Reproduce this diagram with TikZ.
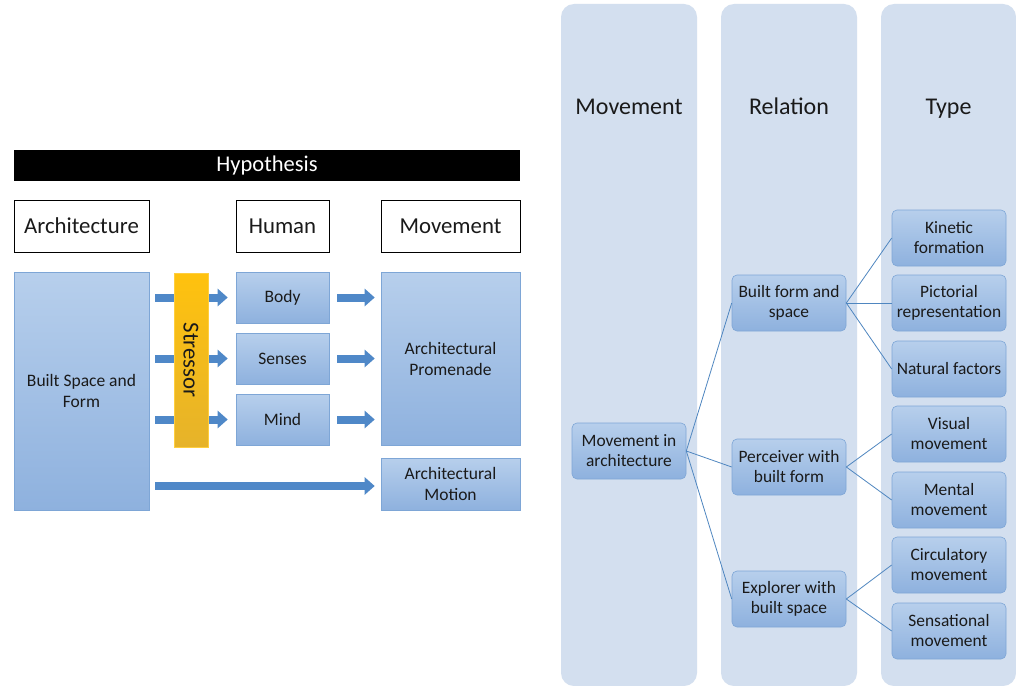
\documentclass[tikz,border=0pt]{standalone}
\usepackage{fontspec}
\setmainfont{Carlito}
\usetikzlibrary{arrows.meta}
\definecolor{nodeTop}{HTML}{B7CFEC}
\definecolor{nodeBot}{HTML}{8EB1DE}
\definecolor{nodeLine}{HTML}{7EA6D6}
\definecolor{colFill}{HTML}{D3DFEF}
\definecolor{arrowFill}{HTML}{4F88C8}
\definecolor{arrowLine}{HTML}{3F73B0}
\definecolor{connLine}{HTML}{4F86C0}
\definecolor{stressTop}{HTML}{FFC20E}
\definecolor{stressBot}{HTML}{E6B32A}
\definecolor{txt}{HTML}{1A1A1A}
\tikzset{
 hdr/.style={draw=black, line width=0.8pt, fill=white, minimum width=135pt, minimum height=52pt, inner sep=0pt, text=txt, font=\fontsize{22.8}{27}\selectfont},
 bluebox/.style={draw=nodeLine, line width=0.6pt, top color=nodeTop, bottom color=nodeBot, inner sep=0pt, align=center, text=txt, font=\fontsize{17.5}{21}\selectfont},
 roundbox/.style={bluebox, rounded corners=5pt, minimum width=114pt, minimum height=56pt, font=\fontsize{17.4}{20}\selectfont},
 column/.style={fill=colFill, rounded corners=13pt, draw=none},
 colhead/.style={text=txt, anchor=base, font=\fontsize{24}{28}\selectfont},
 barrow/.style={arrowFill, line width=8pt, -{Triangle[length=10pt,width=17pt]}},
 conn/.style={draw=connLine, line width=0.8pt},
 stressbox/.style={draw=stressTop!80!white, line width=0.5pt, top color=stressTop, bottom color=stressBot, minimum width=34pt, minimum height=174pt, inner sep=0pt},
}
\begin{document}
\begin{tikzpicture}[x=1pt,y=-1pt]
\path[use as bounding box, fill=white] (0,0) rectangle (1016,685);

% ---------- left: hypothesis ----------
\node[fill=black, minimum width=506pt, minimum height=31pt, inner sep=0pt, text=white, font=\fontsize{22.5}{26}\selectfont] (hyp) at (267,165.5) {Hypothesis};
\node[hdr] (harch) at (81.5,226) {Architecture};
\node[hdr, minimum width=93pt] (hhum) at (282.5,226) {Human};
\node[hdr, minimum width=139pt] (hmov) at (450.5,226) {Movement};

\node[bluebox, minimum width=135pt, minimum height=238pt] (bsf) at (81.5,391) {Built Space and\\Form};
\node[bluebox, minimum width=93pt, minimum height=51pt] (body) at (282.5,297.5) {Body};
\node[bluebox, minimum width=93pt, minimum height=51pt] (sens) at (282.5,358.5) {Senses};
\node[bluebox, minimum width=93pt, minimum height=51pt] (mind) at (282.5,419.5) {Mind};
\node[bluebox, minimum width=139pt, minimum height=173pt] (prom) at (450.5,358.5) {Architectural\\Promenade};
\node[bluebox, minimum width=139pt, minimum height=52pt] (mot) at (450.5,484) {Architectural\\Motion};

\draw[barrow] ([xshift=6pt]bsf.east |- body.west) -- ([xshift=-8pt]body.west);
\draw[barrow] ([xshift=6pt]bsf.east |- sens.west) -- ([xshift=-8pt]sens.west);
\draw[barrow] ([xshift=6pt]bsf.east |- mind.west) -- ([xshift=-8pt]mind.west);
\draw[barrow] ([xshift=8pt]body.east) -- ([xshift=-6pt]prom.west |- body.east);
\draw[barrow] ([xshift=8pt]sens.east) -- ([xshift=-6pt]prom.west |- sens.east);
\draw[barrow] ([xshift=8pt]mind.east) -- ([xshift=-6pt]prom.west |- mind.east);
\draw[barrow] ([xshift=6pt]bsf.east |- 0,486) -- ([xshift=-6pt]mot.west |- 0,486);

\node[stressbox] (str) at (191,360) {};
\node[rotate=-90, text=txt, font=\fontsize{22.8}{27}\selectfont] (strtxt) at (str.center) {Stressor};

% ---------- right: columns ----------
\fill[column] (561,4) rectangle (697,686);
\fill[column] (721,4) rectangle (857,686);
\fill[column] (881,4) rectangle (1016,686);
\node[colhead] (cmov) at (629,114) {Movement};
\node[colhead] (crel) at (789,114) {Relation};
\node[colhead] (ctyp) at (948.5,114) {Type};

\node[roundbox] (mia) at (629,451) {Movement in\\architecture};
\node[roundbox] (bfs) at (789,303) {Built form and\\space};
\node[roundbox] (pbf) at (789,467) {Perceiver with\\built form};
\node[roundbox] (ebs) at (789,599) {Explorer with\\built space};

\node[roundbox] (kin) at (949,238) {Kinetic\\formation};
\node[roundbox] (pic) at (949,303) {Pictorial\\representation};
\node[roundbox] (nat) at (949,369) {Natural factors};
\node[roundbox] (vis) at (949,434) {Visual\\movement};
\node[roundbox] (men) at (949,500) {Mental\\movement};
\node[roundbox] (cir) at (949,565) {Circulatory\\movement};
\node[roundbox] (sen) at (949,631) {Sensational\\movement};

\draw[conn] (mia.east) -- (bfs.west);
\draw[conn] (mia.east) -- (pbf.west);
\draw[conn] (mia.east) -- (ebs.west);
\draw[conn] (bfs.east) -- (kin.west);
\draw[conn] (bfs.east) -- (pic.west);
\draw[conn] (bfs.east) -- (nat.west);
\draw[conn] (pbf.east) -- (vis.west);
\draw[conn] (pbf.east) -- (men.west);
\draw[conn] (ebs.east) -- (cir.west);
\draw[conn] (ebs.east) -- (sen.west);
\end{tikzpicture}
\end{document}
